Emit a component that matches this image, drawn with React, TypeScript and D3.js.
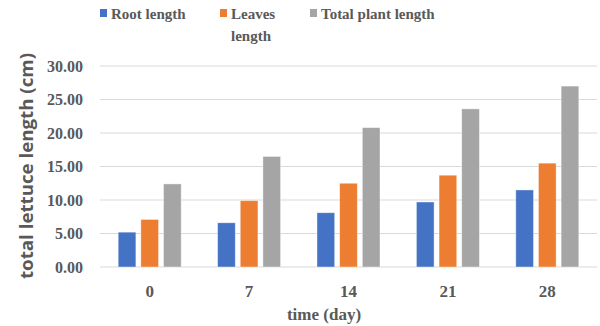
import * as React from 'react';
import * as d3 from 'd3';

const days = ['0', '7', '14', '21', '28'];
const seriesNames = ['Root length', 'Leaves length', 'Total plant length'];
const rootLength = [5.2, 6.6, 8.1, 9.7, 11.5];
const leavesLength = [7.1, 9.9, 12.5, 13.7, 15.5];
const totalLength = [12.4, 16.5, 20.8, 23.6, 27.0];
const yTicks = [0, 5, 10, 15, 20, 25, 30];
const colors = ['#4472C4', '#ED7D31', '#A5A5A5'];

export default function App() {
  const ref = React.useRef<SVGSVGElement>(null);

  React.useEffect(() => {
    const svg = d3.select(ref.current);
    svg.selectAll('*').remove();

    const left = 100;
    const right = 597;
    const top = 66;
    const bottom = 267;
    const textColor = '#595959';
    const serif = '"Liberation Serif", "Times New Roman", serif';

    const x0 = d3.scaleBand().domain(days).range([left, right]);
    const x1 = d3
      .scaleBand()
      .domain(seriesNames)
      .range([-31.5, 31.5])
      .paddingInner(0.22);
    const y = d3.scaleLinear().domain([0, 30]).range([bottom, top]);

    // gridlines
    svg
      .append('g')
      .selectAll('line')
      .data(yTicks)
      .join('line')
      .attr('x1', left)
      .attr('x2', right)
      .attr('y1', d => y(d))
      .attr('y2', d => y(d))
      .attr('stroke', '#d9d9d9')
      .attr('stroke-width', 1);

    // y tick labels
    svg
      .append('g')
      .selectAll('text')
      .data(yTicks)
      .join('text')
      .attr('x', 83)
      .attr('y', d => y(d) + 5.5)
      .attr('text-anchor', 'end')
      .attr('font-family', serif)
      .attr('font-weight', 'bold')
      .attr('font-size', 16)
      .attr('fill', textColor)
      .text(d => d3.format('.2f')(d));

    const values = [rootLength, leavesLength, totalLength];
    seriesNames.forEach((name, si) => {
      svg
        .append('g')
        .selectAll('rect')
        .data(values[si])
        .join('rect')
        .attr('x', (d, i) => x0(days[i])! + x0.bandwidth() / 2 + x1(name)!)
        .attr('y', d => y(d))
        .attr('width', x1.bandwidth())
        .attr('height', d => y(0) - y(d))
        .attr('fill', colors[si])
        .attr('stroke', '#ffffff')
        .attr('stroke-opacity', 0.5)
        .attr('stroke-width', 0.8);
    });

    // x tick labels
    svg
      .append('g')
      .selectAll('text')
      .data(days)
      .join('text')
      .attr('x', d => x0(d)! + x0.bandwidth() / 2)
      .attr('y', 297)
      .attr('text-anchor', 'middle')
      .attr('font-family', serif)
      .attr('font-weight', 'bold')
      .attr('font-size', 17)
      .attr('fill', textColor)
      .text(d => d);

    // axis titles
    svg
      .append('text')
      .attr('x', 324)
      .attr('y', 320)
      .attr('text-anchor', 'middle')
      .attr('font-family', serif)
      .attr('font-weight', 'bold')
      .attr('font-size', 17)
      .attr('fill', textColor)
      .text('time (day)');

    svg
      .append('text')
      .attr('transform', 'translate(33, 166) rotate(-90)')
      .attr('text-anchor', 'middle')
      .attr('font-family', '"Open Sans", "Liberation Sans", sans-serif')
      .attr('font-weight', 'bold')
      .attr('font-size', 17)
      .attr('textLength', 226)
      .attr('lengthAdjust', 'spacingAndGlyphs')
      .attr('fill', textColor)
      .text('total lettuce length (cm)');

    // legend
    const legendX = [100, 220, 310];
    const legend = svg
      .append('g')
      .selectAll('g')
      .data(seriesNames)
      .join('g')
      .attr('transform', (d, i) => `translate(${legendX[i]}, 0)`);
    legend
      .append('rect')
      .attr('x', 0)
      .attr('y', 9)
      .attr('width', 7)
      .attr('height', 8)
      .attr('fill', (d, i) => colors[i]);
    const legendText = legend
      .append('text')
      .attr('font-family', serif)
      .attr('font-weight', 'bold')
      .attr('font-size', 15)
      .attr('fill', textColor);
    legendText.each(function (d) {
      const t = d3.select(this);
      const lines = d === 'Leaves length' ? ['Leaves', 'length'] : [d];
      lines.forEach((line, li) => {
        t.append('tspan')
          .attr('x', 11)
          .attr('y', 19 + li * 22)
          .text(line);
      });
    });
  }, []);

  return (
    <svg
      ref={ref}
      width={600}
      height={326}
      style={{ position: 'absolute', left: 0, top: 0, background: '#fff' }}
    />
  );
}
